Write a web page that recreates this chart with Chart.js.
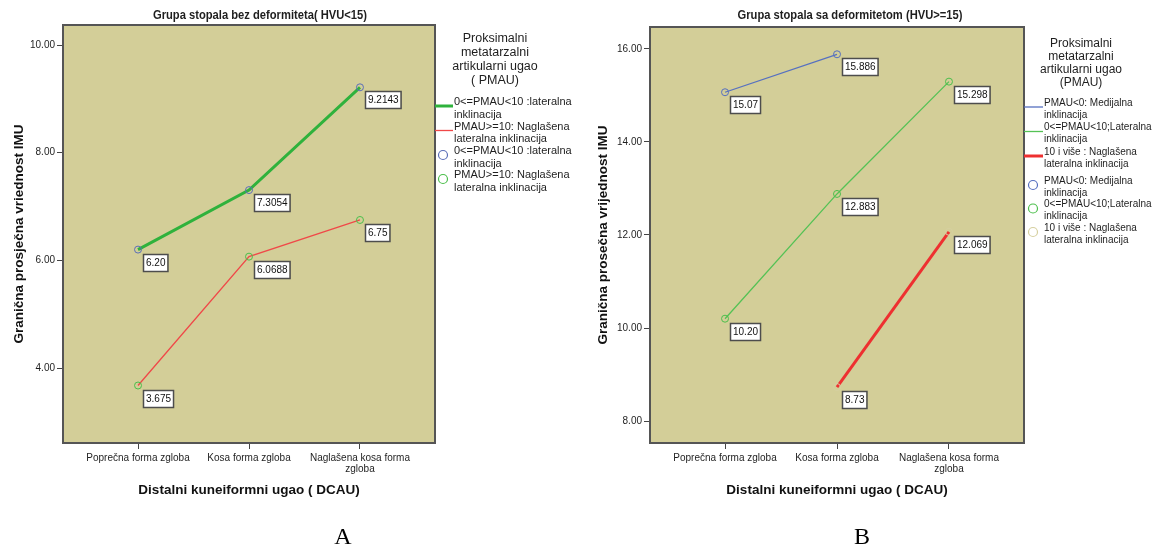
<!DOCTYPE html>
<html><head><meta charset="utf-8">
<script src="https://cdn.jsdelivr.net/npm/chart.js@4/dist/chart.umd.min.js"></script>
<style>
html,body{margin:0;padding:0;background:#fff;width:1154px;height:548px;overflow:hidden;position:relative}
canvas{position:absolute;top:0}
#cA{left:0}
#cB{left:577px}
.panel{position:absolute;font-family:"Liberation Serif","Times New Roman",serif;font-size:24px;color:#000;line-height:24px;transform:translateX(-50%)}
</style></head>
<body>
<canvas id="cA" width="585" height="548"></canvas>
<canvas id="cB" width="577" height="548"></canvas>
<div class="panel" style="left:343px;top:524px">A</div>
<div class="panel" style="left:862px;top:524px">B</div>
<script>
// ---- shared categories (Distalni kuneiformni ugao) ----
const categories = ['Poprečna forma zgloba', 'Kosa forma zgloba', 'Naglašena kosa forma\nzgloba'];
const xAxisTitle = 'Distalni kuneiformni ugao ( DCAU)';

// ---- panel A: bez deformiteta ----
const titleA = 'Grupa stopala bez deformiteta( HVU<15)';
const yTitleA = 'Granična prosječna vriednost IMU';
const yTicksA = [4, 6, 8, 10];
const lateralnaA = [6.20, 7.3054, 9.2143];
const naglasenaA = [3.675, 6.0688, 6.75];
const legendTitleA = ['Proksimalni', 'metatarzalni', 'artikularni ugao', '( PMAU)'];
const namesA = [['0<=PMAU<10 :lateralna', 'inklinacija'], ['PMAU>=10: Naglašena', 'lateralna inklinacija']];

// ---- panel B: sa deformitetom ----
const titleB = 'Grupa stopala sa deformitetom (HVU>=15)';
const yTitleB = 'Granična prosečna vrijednost IMU';
const yTicksB = [8, 10, 12, 14, 16];
const medijalnaB = [15.07, 15.886, null];
const lateralnaB = [10.20, 12.883, 15.298];
const naglasenaB = [null, 8.73, 12.069];
const legendTitleB = ['Proksimalni', 'metatarzalni', 'artikularni ugao', '(PMAU)'];
const namesB = [['PMAU<0: Medijalna', 'inklinacija'], ['0<=PMAU<10;Lateralna', 'inklinacija'], ['10 i više : Naglašena', 'lateralna inklinacija']];

const SANS = '"Liberation Sans", Arial, sans-serif';
const PLOT_BG = '#d3ce98';
const FRAME = '#555555';
const TEXT = '#1e1e1e';

function pts(vals) {
  return vals.map((v, i) => (v == null ? null : { x: i, y: v })).filter(Boolean);
}
// SPSS-like value text: at least two decimals, otherwise as stored
function fmt(v) {
  const d = (String(v).split('.')[1] || '').length;
  return v.toFixed(Math.max(2, d));
}

const spssPlugin = {
  id: 'spss',
  beforeDatasetsDraw(chart) {
    const { ctx, chartArea: a } = chart;
    ctx.save();
    ctx.fillStyle = PLOT_BG;
    ctx.fillRect(a.left, a.top, a.right - a.left, a.bottom - a.top);
    ctx.restore();
  },
  afterDatasetsDraw(chart, args, o) {
    const { ctx, chartArea: a } = chart;
    ctx.save();
    // frame around plot
    ctx.strokeStyle = FRAME;
    ctx.lineWidth = 2;
    ctx.strokeRect(a.left, a.top, a.right - a.left, a.bottom - a.top);

    // value boxes
    ctx.font = '10px ' + SANS;
    ctx.textBaseline = 'middle';
    chart.data.datasets.forEach((ds, di) => {
      const meta = chart.getDatasetMeta(di);
      meta.data.forEach((el, i) => {
        const txt = fmt(ds.data[i].y);
        const w = ctx.measureText(txt).width + 5;
        const h = 17;
        const bx = Math.round(el.x + 5), by = Math.round(el.y + 4);
        ctx.fillStyle = '#ffffff';
        ctx.fillRect(bx, by, w, h);
        ctx.strokeStyle = '#4d4d4d';
        ctx.lineWidth = 1.5;
        ctx.strokeRect(bx + 0.5, by + 0.5, w, h);
        ctx.fillStyle = '#111';
        ctx.textAlign = 'left';
        ctx.fillText(txt, bx + 3, by + h / 2 + 1);
      });
    });

    // chart title, condensed bold
    ctx.fillStyle = TEXT;
    ctx.font = 'bold 13px ' + SANS;
    ctx.textAlign = 'center';
    ctx.save();
    ctx.translate(o.titleX, 15);
    ctx.scale(o.titleSquash, 1);
    ctx.fillText(o.title, 0, 0);
    ctx.restore();

    // legend title
    ctx.font = o.legTitleSize + 'px ' + SANS;
    o.legendTitle.forEach((t, i) => ctx.fillText(t, o.legX, o.legTitleY + i * o.legTitleStep));

    // legend items: line samples, then marker samples
    ctx.font = o.legSize + 'px ' + SANS;
    ctx.textAlign = 'left';
    const dss = chart.data.datasets;
    dss.forEach((ds, i) => {
      const y = o.lineY0 + i * o.lineStep;
      ctx.strokeStyle = ds.borderColor;
      ctx.lineWidth = ds.borderWidth;
      ctx.beginPath();
      ctx.moveTo(o.sampleX0, y + 4);
      ctx.lineTo(o.sampleX1, y + 4);
      ctx.stroke();
      ctx.fillStyle = TEXT;
      ds.legendLines.forEach((t, k) => ctx.fillText(t, o.textX, y + k * o.legLine));
    });
    dss.forEach((ds, i) => {
      const y = o.circY0 + i * o.circStep;
      ctx.strokeStyle = ds.pointBorderColor;
      ctx.lineWidth = 1.2;
      ctx.beginPath();
      ctx.arc(o.circX, y + 4, 4.5, 0, Math.PI * 2);
      ctx.stroke();
      ctx.fillStyle = TEXT;
      ds.legendLines.forEach((t, k) => ctx.fillText(t, o.textX, y + k * o.legLine));
    });
    ctx.restore();
  }
};

function makeChart(id, c) {
  return new Chart(document.getElementById(id), {
    type: 'line',
    data: { datasets: c.datasets },
    options: {
      responsive: false,
      animation: false,
      devicePixelRatio: 1,
      layout: { padding: { left: 0, top: c.top, right: c.right, bottom: 45 } },
      elements: { line: { tension: 0 } },
      plugins: { legend: { display: false }, tooltip: { enabled: false }, spss: c.spss },
      scales: {
        x: {
          type: 'linear', min: c.xMin, max: c.xMax,
          afterFit(s) { s.height = 60; },
          afterBuildTicks(s) { s.ticks = categories.map((_, i) => ({ value: i })); },
          grid: { display: true, drawOnChartArea: false, drawTicks: true, tickLength: 6, color: '#444', lineWidth: 1 },
          border: { display: false },
          ticks: {
            autoSkip: false, maxRotation: 0, minRotation: 0, padding: 4, color: TEXT,
            font: { family: SANS, size: 10, lineHeight: 1.1 },
            callback: v => (categories[v] ? categories[v].split('\n') : '')
          },
          title: {
            display: true, text: xAxisTitle, color: '#111',
            font: { family: SANS, size: 13.5, weight: 'bold' }, padding: { top: 0, bottom: 4.5 }
          }
        },
        y: {
          min: c.yMin, max: c.yMax,
          afterFit(s) { s.width = c.yW; },
          afterBuildTicks(s) { s.ticks = c.yTicks.map(v => ({ value: v })); },
          grid: { display: true, drawOnChartArea: false, drawTicks: true, tickLength: 6, color: '#444', lineWidth: 1 },
          border: { display: false },
          ticks: { padding: 2, color: TEXT, font: { family: SANS, size: 10 }, callback: v => Number(v).toFixed(2) },
          title: {
            display: true, text: c.yTitle, color: '#111',
            font: { family: SANS, size: 13.5, weight: 'bold' }, padding: { top: c.yTitlePad, bottom: 0 }
          }
        }
      }
    },
    plugins: [spssPlugin]
  });
}

makeChart('cA', {
  top: 25, right: 150, yW: 63, yTitlePad: 11,
  xMin: -0.676, xMax: 2.676, yMin: 2.607, yMax: 10.372, yTicks: yTicksA, yTitle: yTitleA,
  datasets: [
    { label: namesA[0].join(' '), legendLines: namesA[0], data: pts(lateralnaA),
      borderColor: '#2fb23c', borderWidth: 3, pointRadius: 3.5, pointBorderWidth: 1,
      pointBorderColor: '#5b6fb8', pointBackgroundColor: 'rgba(0,0,0,0)' },
    { label: namesA[1].join(' '), legendLines: namesA[1], data: pts(naglasenaA),
      borderColor: '#f04848', borderWidth: 1.3, pointRadius: 3.5, pointBorderWidth: 1,
      pointBorderColor: '#4cbf4c', pointBackgroundColor: 'rgba(0,0,0,0)' }
  ],
  spss: {
    title: titleA, titleX: 260, titleSquash: 0.86,
    legendTitle: legendTitleA, legX: 495, legTitleY: 39, legTitleStep: 13.7, legTitleSize: 12.5,
    legSize: 11, legLine: 12.5,
    sampleX0: 435, sampleX1: 453, circX: 443, textX: 454,
    lineY0: 102, lineStep: 24.5, circY0: 151, circStep: 24
  }
});

makeChart('cB', {
  top: 27, right: 130, yW: 73, yTitlePad: 18,
  xMin: -0.67, xMax: 2.67, yMin: 7.527, yMax: 16.473, yTicks: yTicksB, yTitle: yTitleB,
  datasets: [
    { label: namesB[0].join(' '), legendLines: namesB[0], data: pts(medijalnaB),
      borderColor: '#5670c0', borderWidth: 1.3, pointRadius: 3.5, pointBorderWidth: 1,
      pointBorderColor: '#5670c0', pointBackgroundColor: 'rgba(0,0,0,0)' },
    { label: namesB[1].join(' '), legendLines: namesB[1], data: pts(lateralnaB),
      borderColor: '#55c255', borderWidth: 1.3, pointRadius: 3.5, pointBorderWidth: 1,
      pointBorderColor: '#4cbf4c', pointBackgroundColor: 'rgba(0,0,0,0)' },
    { label: namesB[2].join(' '), legendLines: namesB[2], data: pts(naglasenaB),
      borderColor: '#ee3030', borderWidth: 3, pointRadius: 3.5, pointBorderWidth: 1,
      pointBorderColor: '#d6d0a0', pointBackgroundColor: 'rgba(0,0,0,0)' }
  ],
  spss: {
    title: titleB, titleX: 273, titleSquash: 0.86,
    legendTitle: legendTitleB, legX: 504, legTitleY: 44, legTitleStep: 13, legTitleSize: 12,
    legSize: 10, legLine: 12,
    sampleX0: 447, sampleX1: 466, circX: 456, textX: 467,
    lineY0: 103, lineStep: 24.5, circY0: 181, circStep: 23.5
  }
});
</script>
</body></html>
